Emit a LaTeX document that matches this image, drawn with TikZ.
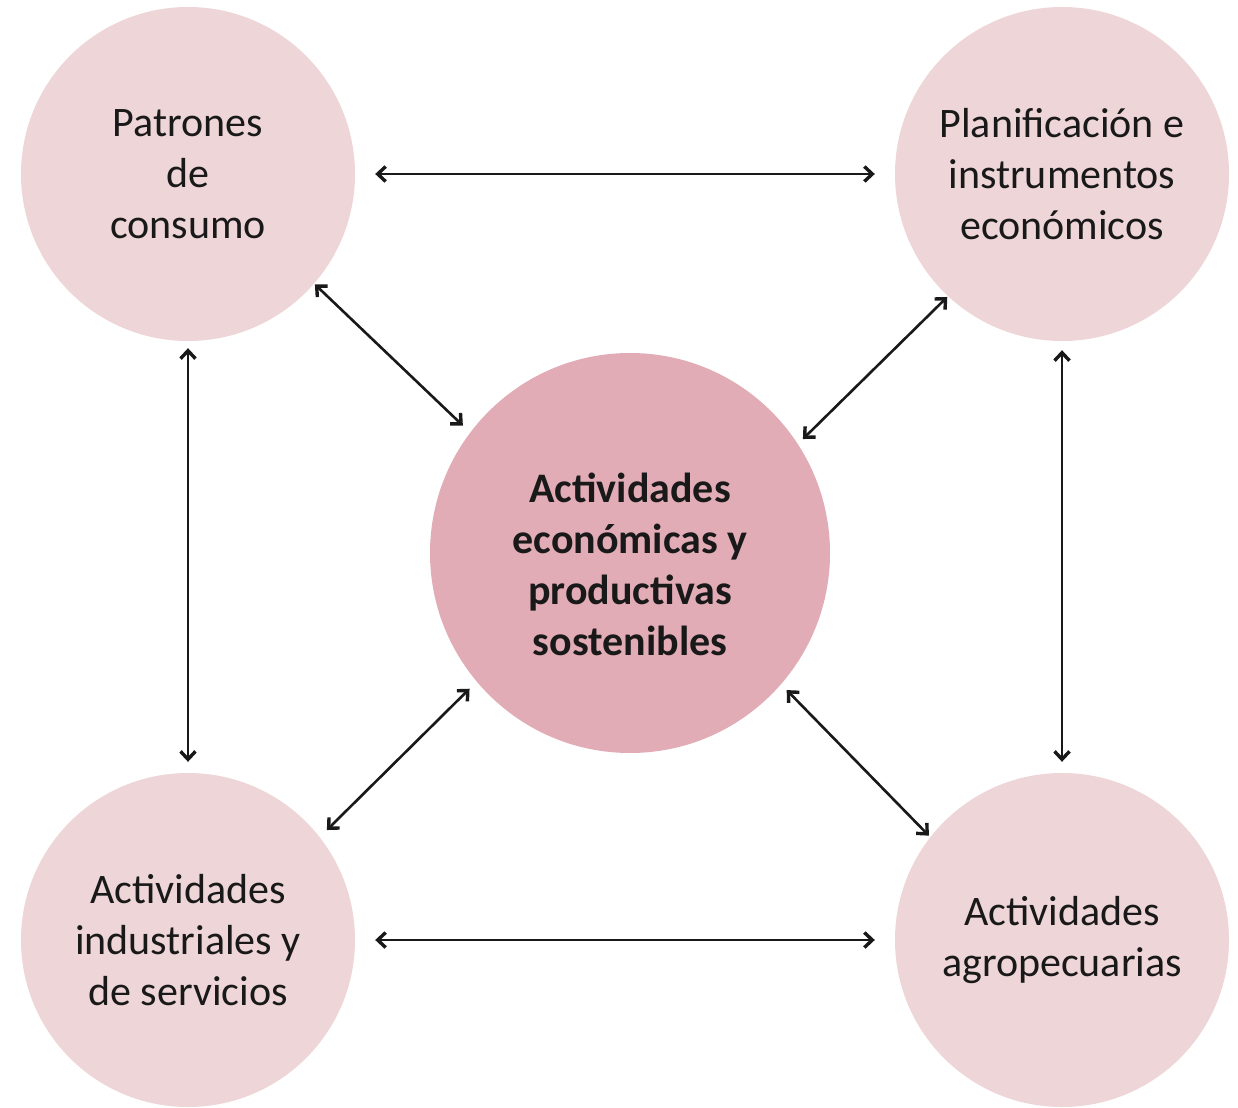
\documentclass[tikz,border=0pt]{standalone}
\usepackage{fontspec}
\setmainfont{Carlito}
\usetikzlibrary{arrows.meta}
\definecolor{outerpink}{RGB}{238,213,215}
\definecolor{centerpink}{RGB}{226,172,182}
\definecolor{arrowink}{RGB}{25,25,25}
\tikzset{
  outercircle/.style={circle, fill=outerpink, draw=none, minimum size=334pt, inner sep=0pt, align=center, font=\fontsize{42}{51}\selectfont, text=black!90},
  centercircle/.style={circle, fill=centerpink, draw=none, minimum size=400pt, inner sep=0pt},
  link/.style={draw=arrowink, line width=2.6pt, {Straight Barb[length=8pt,width=15pt,line width=3.4pt]}-{Straight Barb[length=8pt,width=15pt,line width=3.4pt]}}
}
\begin{document}
\begin{tikzpicture}[x=1pt,y=-1pt]
\useasboundingbox (0,0) rectangle (1238,1107);
\fill[white] (0,0) rectangle (1238,1107);
\node[outercircle] (tl) at (188,174) {Patrones\\de\\consumo};
\node[outercircle] (tr) at (1062,174) {Planificación e\\instrumentos\\económicos};
\node[outercircle] (bl) at (188,940) {Actividades\\industriales y\\de servicios};
\node[outercircle] (br) at (1062,940) {Actividades\\agropecuarias};
\node[centercircle, label={[align=center, font=\fontsize{42}{51}\selectfont\bfseries, text=black!90, yshift=-11pt]center:Actividades\\económicas y\\productivas\\sostenibles}] (c) at (630,553) {};
\draw[link, shorten <=20pt, shorten >=20pt] (tl.east) -- (tr.west);
\draw[link, shorten <=20pt, shorten >=20pt] (bl.east) -- (br.west);
\draw[link, shorten <=7pt, shorten >=11pt] (tl.south) -- (bl.north);
\draw[link, shorten <=9pt, shorten >=11pt] (tr.south) -- (br.north);
\draw[link, shorten <=1pt, shorten >=10pt] (tl.-41) -- (c.143);
\draw[link, shorten <=1pt, shorten >=7pt] (tr.-133) -- (c.33);
\draw[link, shorten <=10pt, shorten >=10pt] (c.-140) -- (bl.38);
\draw[link, shorten <=8pt, shorten >=2pt] (c.-41.5) -- (br.142);
\end{tikzpicture}
\end{document}
